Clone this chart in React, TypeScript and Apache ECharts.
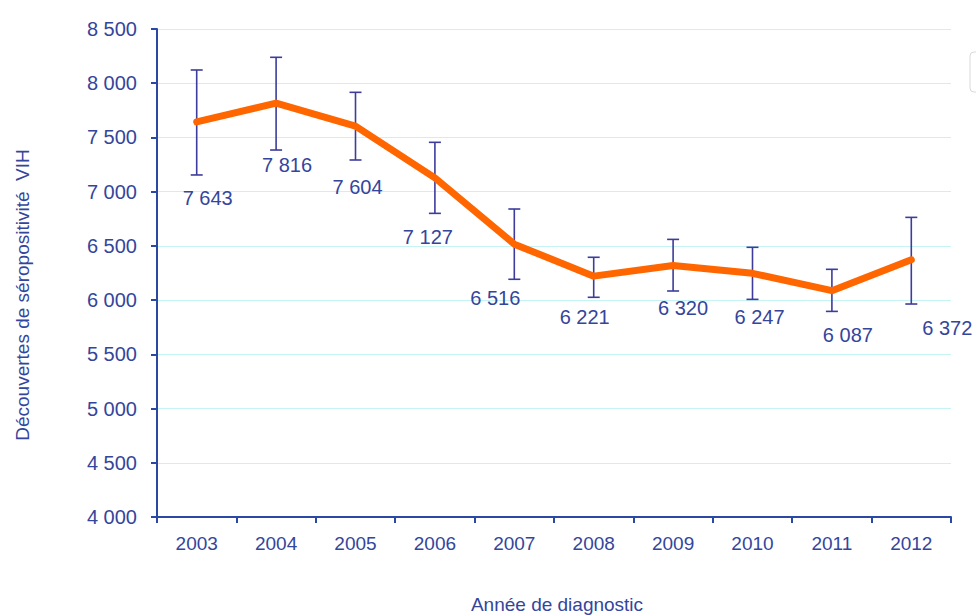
import React, { useEffect, useRef } from "react";
import * as echarts from "echarts";

const years = ["2003", "2004", "2005", "2006", "2007", "2008", "2009", "2010", "2011", "2012"];
const values = [7643, 7816, 7604, 7127, 6516, 6221, 6320, 6247, 6087, 6372];
const errLow = [7154, 7384, 7292, 6800, 6192, 6026, 6084, 6007, 5896, 5964];
const errHigh = [8122, 8239, 7916, 7455, 6840, 6395, 6560, 6487, 6284, 6763];

const yTitle = "Découvertes de séropositivité  VIH";
const xTitle = "Année de diagnostic";

// label placement (layout only)
const labelOffsets: [number, number][] = [
  [11, 76], [11, 62], [2, 61], [-7, 59], [-19, 54],
  [-9, 41], [10, 43], [7, 44], [16, 44], [36, 68],
];

const FONT = "'Liberation Sans Narrow', 'Arial Narrow', 'Liberation Sans', sans-serif";
const TEXT = "#34459c";

const fmt = (v: number) => String(v).replace(/\B(?=(\d{3})+(?!\d))/g, " ");

export default function App() {
  const ref = useRef<HTMLDivElement>(null);
  useEffect(() => {
    if (!ref.current) return;
    const chart = echarts.init(ref.current, null, { renderer: "svg" });
    chart.setOption({
      animation: false,
      backgroundColor: "#ffffff",
      grid: { left: 157, top: 29, right: 25, bottom: 99 },
      xAxis: {
        type: "category",
        data: years,
        boundaryGap: true,
        axisLine: { lineStyle: { color: "#2b48a5", width: 2 } },
        axisTick: { show: true, length: 6, lineStyle: { color: "#2b48a5", width: 2 } },
        axisLabel: { color: TEXT, fontFamily: FONT, fontSize: 19, margin: 17 },
        splitLine: { show: false },
      },
      yAxis: {
        type: "value",
        min: 4000,
        max: 8500,
        interval: 500,
        axisLine: { show: true, lineStyle: { color: "#2b48a5", width: 2 } },
        axisTick: { show: true, length: 6, lineStyle: { color: "#2b48a5", width: 2 } },
        axisLabel: { color: TEXT, fontFamily: FONT, fontSize: 20, margin: 20, formatter: (v: number) => fmt(v) },
        splitLine: { show: true, lineStyle: { color: "#c6f4f4", width: 1 } },
      },
      graphic: [
        {
          type: "text",
          x: 22,
          y: 295,
          rotation: Math.PI / 2,
          style: {
            text: yTitle,
            fill: TEXT,
            font: `19px ${FONT}`,
            align: "center",
            verticalAlign: "middle",
          },
        },
        {
          type: "text",
          x: 557,
          y: 604,
          style: {
            text: xTitle,
            fill: TEXT,
            font: `19px ${FONT}`,
            align: "center",
            verticalAlign: "middle",
          },
        },
        {
          type: "rect",
          shape: { x: 970, y: 52, width: 30, height: 40, r: 4 },
          style: { fill: "#ffffff", stroke: "#d9d9d9", lineWidth: 1 },
        },
      ],
      series: [
        {
          type: "custom",
          z: 2,
          data: years.map((_, i) => [i, errLow[i], errHigh[i]]),
          renderItem: (params: any, api: any) => {
            const lo = api.coord([api.value(0), api.value(1)]);
            const hi = api.coord([api.value(0), api.value(2)]);
            const cap = 6;
            const st = { stroke: "#3d3c9c", lineWidth: 1.6 };
            return {
              type: "group",
              children: [
                { type: "line", shape: { x1: lo[0], y1: lo[1], x2: hi[0], y2: hi[1] }, style: st },
                { type: "line", shape: { x1: lo[0] - cap, y1: lo[1], x2: lo[0] + cap, y2: lo[1] }, style: st },
                { type: "line", shape: { x1: hi[0] - cap, y1: hi[1], x2: hi[0] + cap, y2: hi[1] }, style: st },
              ],
            };
          },
        },
        {
          type: "line",
          z: 3,
          data: values.map((v, i) => ({
            value: v,
            label: { offset: labelOffsets[i] },
          })),
          showSymbol: true,
          symbol: "circle",
          symbolSize: 0,
          lineStyle: { color: "#ff6600", width: 7, cap: "round", join: "round" },
          itemStyle: { color: "#ff6600" },
          label: {
            show: true,
            position: "inside",
            color: TEXT,
            fontFamily: FONT,
            fontSize: 20,
            formatter: (p: any) => fmt(p.value),
          },
        },
      ],
    });
    return () => chart.dispose();
  }, []);
  return <div ref={ref} style={{ width: 976, height: 616, position: "absolute", left: 0, top: 0 }} />;
}
